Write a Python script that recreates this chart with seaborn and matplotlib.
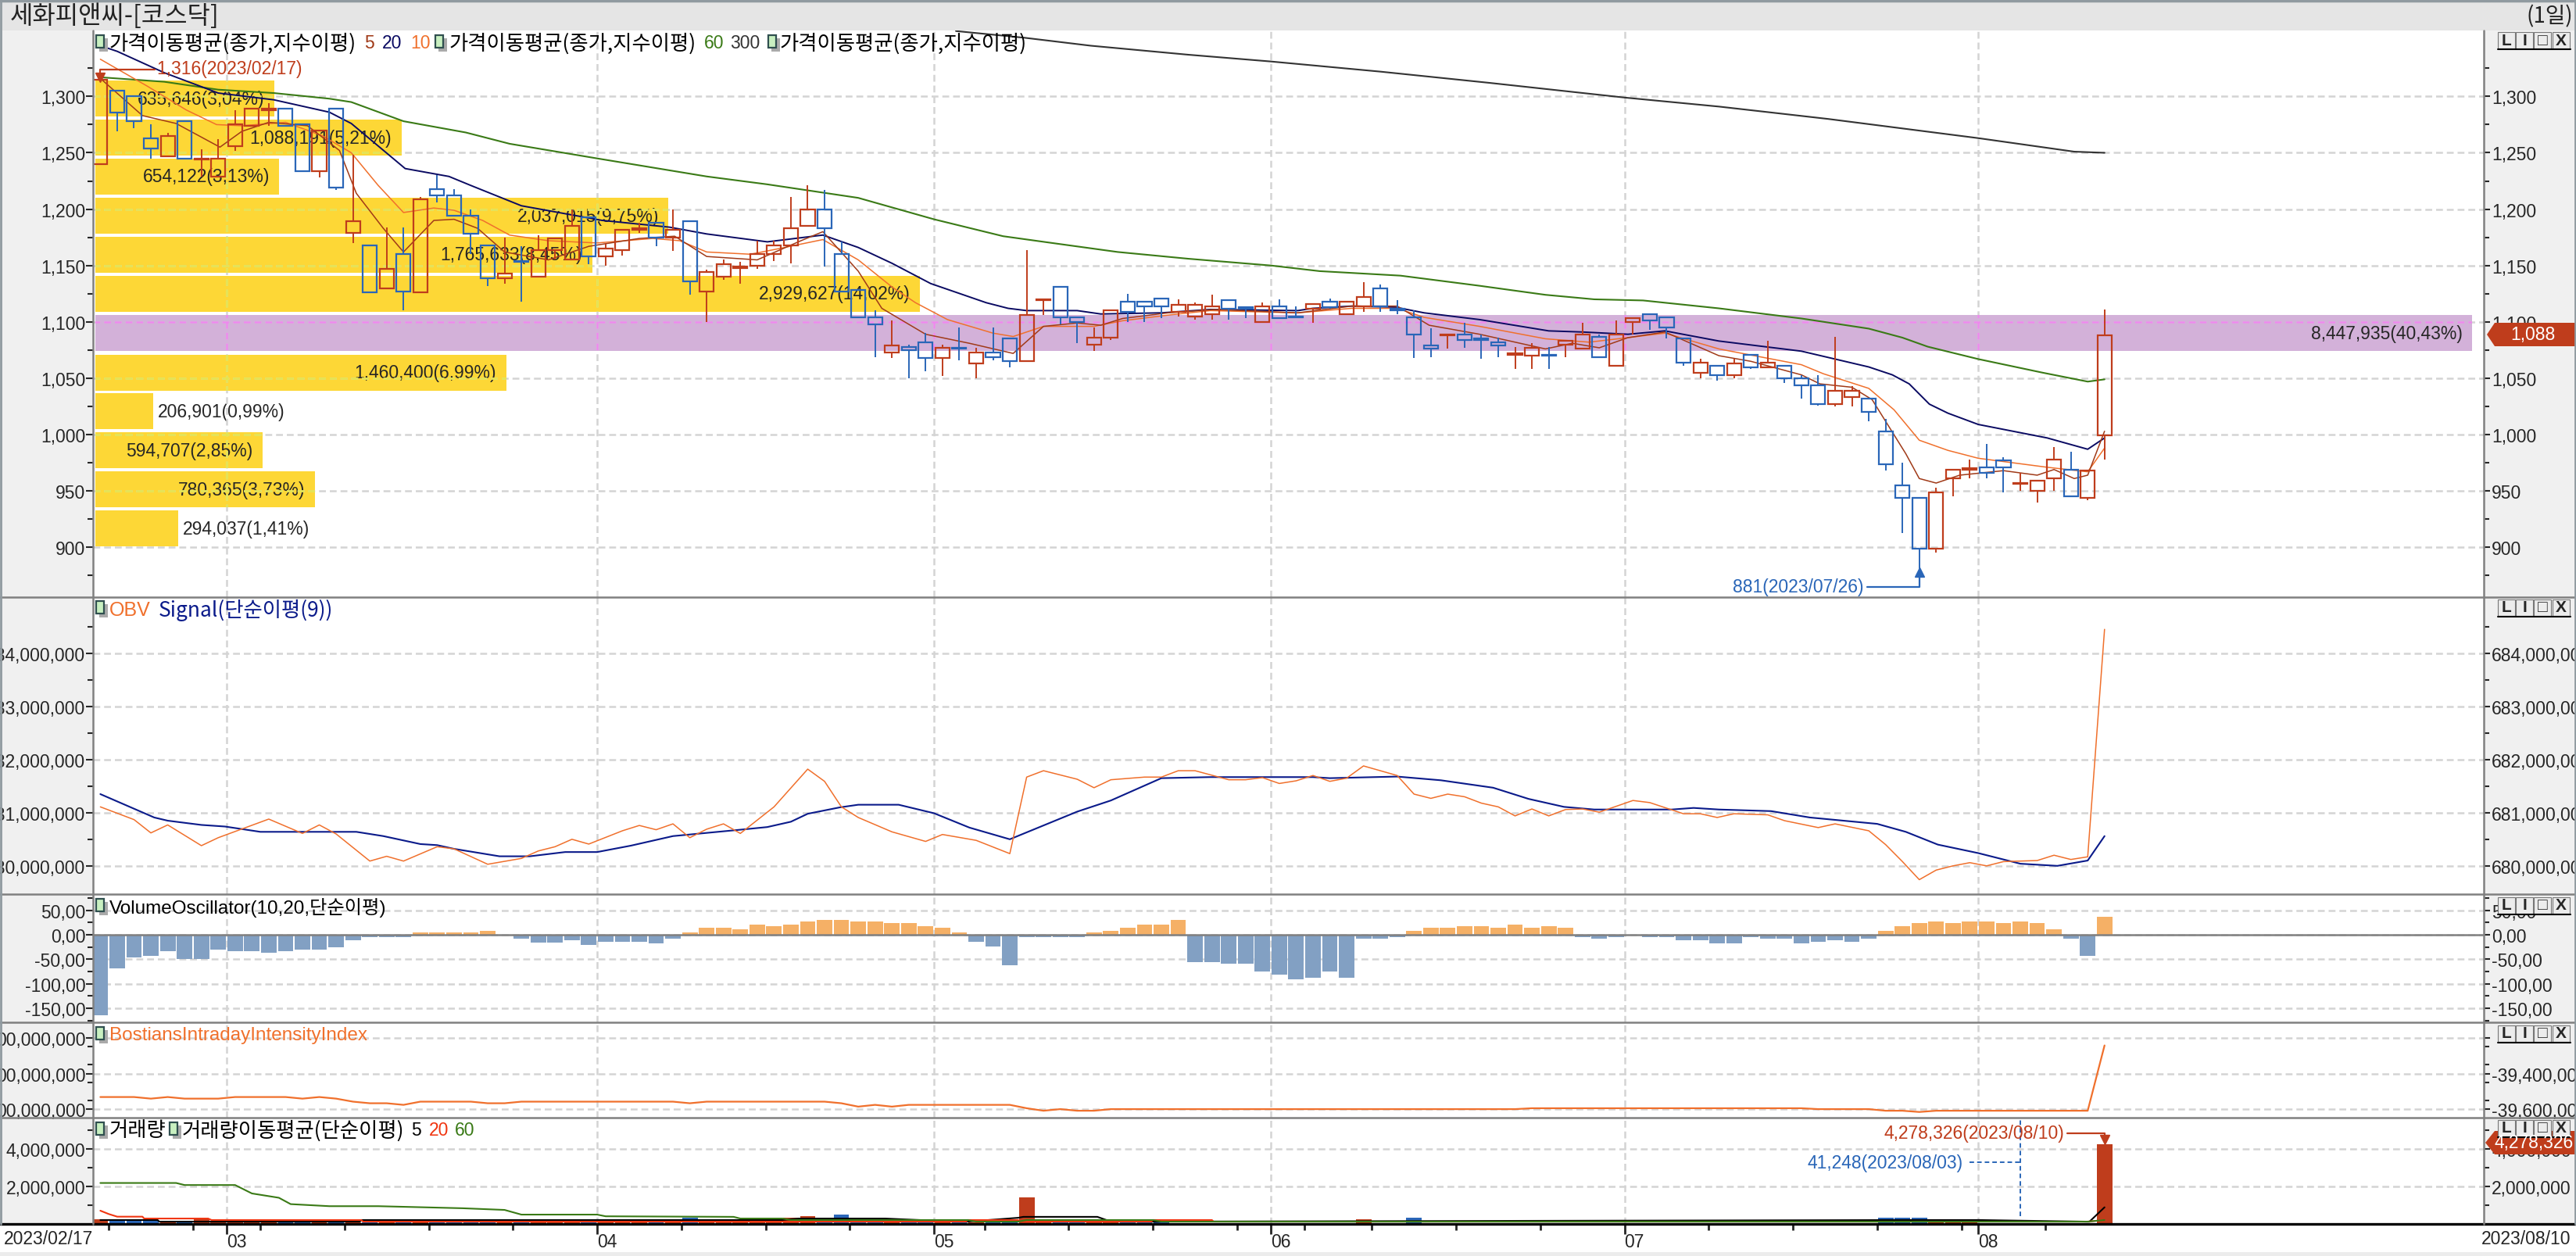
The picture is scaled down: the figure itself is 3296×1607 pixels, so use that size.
import matplotlib
matplotlib.use('Agg')
import matplotlib.pyplot as plt
from matplotlib.patches import Rectangle, Polygon
import numpy as np
import seaborn as sns

sns.set_style("white")
plt.rcParams['font.family'] = ['Liberation Sans', 'Noto Sans CJK KR', 'DejaVu Sans']
plt.rcParams['font.size'] = 16.5
CJK = ['Noto Sans CJK KR', 'DejaVu Sans']

# ---- candles, one per trading day 2023/02/17 .. 2023/08/10
opens = [1240,1305,1300,1263,1247,1278,1244,1229,1256,1274,1288,1289,1275,1234,1289,1179,1168,1130,1160,1126,
         1218,1212,1194,1168,1139,1154,1140,1164,1155,1193,1158,1164,1182,1188,1175,1189,1127,1140,1148,1150,
         1160,1168,1185,1200,1160,1128,1104,1073,1078,1082,1068,1077,1063,1073,1085,1065,1119,1131,1104,1080,
         1086,1118,1118,1121,1109,1105,1107,1119,1113,1100,1114,1105,1112,1118,1107,1114,1130,1112,1104,1079,
         1088,1089,1085,1082,1071,1070,1071,1080,1076,1087,1061,1100,1107,1104,1085,1055,1061,1053,1071,1060,
         1061,1050,1044,1027,1033,1032,1003,955,944,899,961,969,971,977,956,950,961,969,944,999]
highs = [1316,1305,1300,1275,1268,1278,1253,1262,1288,1289,1294,1289,1275,1270,1289,1248,1168,1184,1184,1211,
         1230,1218,1200,1168,1175,1167,1177,1174,1200,1193,1169,1182,1188,1188,1200,1189,1146,1155,1153,1172,
         1172,1211,1221,1217,1171,1128,1110,1101,1080,1090,1080,1095,1077,1095,1085,1164,1120,1131,1104,1095,
         1110,1125,1118,1121,1120,1117,1124,1119,1114,1117,1120,1114,1116,1121,1118,1135,1133,1119,1110,1094,
         1089,1099,1089,1086,1078,1081,1078,1083,1099,1089,1101,1103,1107,1104,1085,1067,1061,1067,1071,1083,
         1061,1053,1053,1087,1043,1032,1014,975,944,953,969,978,992,980,966,959,989,985,968,1111]
lows = [1240,1269,1272,1245,1247,1244,1229,1229,1252,1274,1274,1274,1234,1228,1217,1170,1126,1130,1110,1126,
        1206,1194,1160,1132,1134,1118,1140,1155,1155,1151,1150,1159,1179,1167,1163,1124,1100,1137,1134,1147,
        1154,1152,1185,1149,1127,1104,1069,1068,1050,1056,1052,1066,1050,1066,1060,1065,1106,1098,1081,1074,
        1084,1100,1100,1103,1105,1102,1102,1102,1103,1100,1103,1103,1099,1112,1107,1109,1109,1107,1068,1069,
        1076,1077,1067,1069,1058,1058,1058,1069,1076,1069,1061,1089,1093,1085,1061,1050,1048,1050,1058,1059,
        1046,1032,1026,1025,1025,1012,968,913,881,895,945,961,961,949,950,940,950,945,942,978]
closes = [1315,1286,1278,1254,1265,1245,1245,1245,1275,1289,1289,1274,1234,1270,1219,1189,1126,1147,1127,1209,
          1212,1194,1178,1139,1143,1153,1164,1174,1185,1158,1165,1182,1183,1175,1182,1136,1144,1151,1149,1160,
          1168,1183,1200,1183,1127,1104,1098,1079,1075,1068,1077,1076,1073,1069,1065,1106,1120,1104,1100,1086,
          1110,1109,1114,1114,1115,1115,1114,1112,1112,1114,1103,1104,1116,1113,1118,1122,1114,1110,1089,1076,
          1089,1084,1084,1079,1072,1077,1070,1083,1089,1069,1089,1103,1101,1095,1064,1064,1053,1063,1060,1064,
          1050,1044,1027,1039,1039,1020,974,944,899,949,969,970,966,971,957,959,978,945,968,1088]

# ---- price moving averages, read as knots (bar index, value)
ma5_x = [0,2.5,4.5,7.1,8.4,10,12.3,14.2,15.2,16.8,18,19.8,21,22.4,24,26.6,29,32,34.1,36,39,41.6,42.9,45,46.4,49,51.6,
         54.2,56,58,59.4,60.7,63.4,66.2,71.1,74.3,77,78.9,81.9,85.8,87.4,89,90.7,92.9,96.1,98,101,102.1,104,105.2,
         106.2,107.2,108,109,110.4,113,115,116,117.2,118,119]
ma5_y = [1316,1283,1276,1255,1269,1277,1274,1252,1214,1183,1162,1190,1191,1183,1162,1155,1167,1174,1176,1158,1155,1172,
         1180,1145,1112,1089,1081,1072,1096,1099,1097,1103,1108,1111,1108,1114,1114,1097,1089,1076,1081,1077,1086,1091,
         1070,1065,1053,1045,1042,1031,1007,983,961,957,964,968,964,969,961,964,1003]
ma10_x = [0,2.8,5.1,6.9,8.4,11,13.2,14.9,16.5,18,19.8,21,22.7,24.3,26.6,29.5,32.8,34.4,36,38.6,40.3,42.9,45,47,48.4,
          50.3,53,54.2,56,59,60.7,63.4,65.9,71.1,74.3,77,78.6,81.9,85.8,88.4,90.7,92.9,96.1,101,102.3,105,106.5,108,
          109.7,111.5,115.6,118,119]
ma10_y = [1333,1309,1288,1275,1274,1277,1265,1250,1221,1197,1201,1199,1190,1177,1172,1170,1174,1172,1162,1160,1165,1173,
          1155,1131,1117,1102,1090,1087,1096,1096,1101,1106,1110,1108,1112,1112,1104,1096,1085,1082,1086,1090,1076,1062,
          1054,1041,1022,995,986,979,971,967,988]
ma20_x = [0,1,3.8,7,10.3,13.6,14.9,18.1,20.7,22,25,29.8,33.8,36,39.6,42.9,45,47,49.3,52.6,53.9,55,58,59.4,63,65.9,71.1,
          72,74.3,76.9,78.6,81.9,86,88,90.7,92.9,96.1,101,105,106.4,107.4,108.6,109.7,111.5,115.6,118,119]
ma20_y = [1345,1340,1321,1303,1297,1286,1276,1236,1229,1221,1203,1190,1184,1178,1171,1177,1166,1152,1134,1117,1112,1110,
          1110,1107,1108,1111,1110,1112,1114,1113,1108,1102,1092,1091,1089,1092,1083,1074,1060,1053,1045,1027,1019,1009,
          997,987,997]
ma60_x = [0,3.8,7,10.3,13.6,14.9,18,21.7,24.3,29.5,36,39.6,45,49.5,53.6,56.5,60.4,64.6,69.5,72.4,77.2,81.9,85.8,88.7,
          91.6,96.1,101,105,107,108.5,111.5,115.3,118,119]
ma60_y = [1317,1313,1306,1303,1298,1295,1278,1268,1258,1245,1229,1222,1210,1191,1176,1170,1162,1156,1150,1145,1141,1132,
          1124,1120,1119,1112,1103,1094,1086,1078,1067,1055,1047,1049]
ma300_x = [50.8,54.9,58.8,64.6,69.5,76,82.5,90.5,96.1,102.6,111.5,117.2,119]
ma300_y = [1358,1352,1345,1337,1331,1322,1312,1299,1291,1280,1263,1251,1250]

price_major = [1300,1250,1200,1150,1100,1050,1000,950,900]
price_labels = ['1,300','1,250','1,200','1,150','1,100','1,050','1,000','950','900']
price_minor = [1325,1275,1225,1175,1125,1075,1025,975,925,875]

# ---- volume by price
profile_price = [1298,1263.4,1229,1194,1159.6,1125,1090,1055,1020.6,986,951.3,916.7]
profile_vol = [635646,1088191,654122,2037015,1765633,2929627,8447935,1460400,206901,594707,780365,294037]
profile_text = ['635,646(3,04%)','1,088,191(5,21%)','654,122(3,13%)','2,037,015(9,75%)','1,765,633(8,45%)',
                '2,929,627(14,02%)','8,447,935(40,43%)','1,460,400(6,99%)','206,901(0,99%)','594,707(2,85%)',
                '780,365(3,73%)','294,037(1,41%)']

# ---- OBV and its signal
obv_x = [0,2,3,4,6,7,10,12,13,14,16,17,18,20,21,23,25,26,27,28,29,31,32,33,34,35,36,37,38,40,42,43,44,45,47,49,50,52,54,
         55,56,58,59,60,62,63,64,65,67,68,69,70,71,72,73,74,75,77,78,79,80,81,82,83,84,85,86,87,88,89,91,92,94,95,96,
         97,99,100,102,103,105,106,107,108,109,110,111,112,113,115,116,117,118,119]
obv_y = [681.11,680.87,680.62,680.77,680.38,680.53,680.88,680.61,680.77,680.60,680.09,680.18,680.09,680.36,680.32,680.03,
         680.14,680.28,680.36,680.50,680.41,680.66,680.76,680.68,680.79,680.53,680.69,680.79,680.61,681.11,681.82,681.59,
         681.11,680.91,680.64,680.46,680.59,680.48,680.23,681.67,681.79,681.63,681.47,681.62,681.67,681.67,681.79,681.79,
         681.62,681.62,681.66,681.55,681.60,681.70,681.59,681.65,681.88,681.70,681.35,681.27,681.35,681.30,681.18,681.11,
         680.94,681.07,680.94,681.06,681.07,681.01,681.23,681.19,680.98,680.98,680.91,680.98,680.96,680.85,680.72,680.79,
         680.66,680.40,680.08,679.74,679.92,680.00,680.06,680.00,680.08,680.10,680.20,680.12,680.17,684.45]
signal_x = [0,3.2,4,6,7.4,9.5,15.2,16.8,19,20,21,23.7,25.5,27.6,29.5,31.5,34,36,38,39.6,41,42,43.9,45,47.4,49.5,51.6,54,
            58,60,63,65.9,72,73,77,79.6,82.7,84.8,86.9,88.7,93.3,94.6,96.1,99.2,101.5,105.5,107.2,109.1,111.5,114,116.2,118,119]
signal_y = [681.35,680.91,680.85,680.77,680.74,680.64,680.64,680.56,680.41,680.39,680.32,680.18,680.18,680.26,680.26,680.38,
            680.56,680.62,680.68,680.73,680.83,680.98,681.10,681.15,681.15,680.99,680.72,680.50,681.02,681.23,681.65,681.67,
            681.67,681.65,681.68,681.61,681.47,681.26,681.11,681.06,681.06,681.09,681.06,681.03,680.91,680.79,680.64,680.40,
            680.24,680.04,680.00,680.10,680.56]
obv_major = [684,683,682,681,680]
obv_labels = ['684,000,000','683,000,000','682,000,000','681,000,000','680,000,000']
obv_minor = [684.5,683.5,682.5,681.5,680.5]

# ---- volume oscillator
vo_values = [-164,-69,-47,-43,-34,-49,-49,-30,-34,-34,-37,-34,-30,-30,-26,-11,-5,-5,-5,5,5,5,5,8,0,-8,-16,-16,-11,-21,
             -15,-15,-15,-17,-8,5,15,15,11,21,17,21,27,30,30,27,27,24,24,17,15,5,-15,-24,-62,-5,-5,-5,-5,5,
             8,15,21,21,30,-56,-56,-59,-59,-75,-81,-91,-88,-75,-88,-8,-8,-5,8,15,15,17,17,15,21,15,17,15,-5,-8,
             -5,0,-5,-5,-11,-11,-17,-17,-5,-8,-8,-17,-15,-11,-15,-8,8,17,24,27,24,27,27,24,27,24,11,-8,-43,36]
vo_major = [50,0,-50,-100,-150]
vo_labels = ['50,00','0,00','-50,00','-100,00','-150,00']
vo_minor = [75,25,-25,-75,-125,-175]

# ---- Bostian intraday intensity
bii_x = [0,2,3,4,5,7,8,11,12,13,14,15,16,17,18,19,22,23,24,25,34,35,36,43,44,45,46,47,48,54,55,56,57,58,59,60,84,85,
         101,102,105,106,107,108,109,118,119]
bii_y = [-39532000,-39532000,-39541000,-39532000,-39541000,-39541000,-39532000,-39532000,-39541000,-39532000,-39541000,
         -39558000,-39567000,-39567000,-39576000,-39558000,-39558000,-39567000,-39567000,-39558000,-39558000,-39567000,
         -39558000,-39558000,-39567000,-39586000,-39576000,-39586000,-39576000,-39576000,-39595000,-39609000,-39600000,
         -39609000,-39609000,-39600000,-39600000,-39595000,-39595000,-39600000,-39600000,-39609000,-39609000,-39616000,
         -39609000,-39609000,-39242000]
bii_major = [-39200000,-39400000,-39600000]
bii_left_labels = ['00,000,000','00,000,000','00,000,000']
bii_right_labels = ['','-39,400,000','-39,600,000']
bii_minor = [-39250000,-39350000,-39450000,-39550000]

# ---- volume and its averages
volume = [250000,170000,170000,170000,100000,80000,250000,100000,90000,90000,
          90000,80000,80000,90000,90000,80000,90000,80000,90000,80000,
          80000,80000,70000,80000,80000,80000,90000,80000,80000,80000,
          80000,80000,80000,80000,90000,335000,170000,120000,100000,80000,
          90000,335000,420000,80000,500000,170000,170000,170000,170000,80000,
          80000,80000,80000,80000,80000,1420000,170000,170000,80000,170000,
          80000,80000,80000,80000,60000,60000,60000,60000,60000,60000,
          50000,50000,50000,50000,50000,250000,60000,60000,335000,60000,
          60000,60000,60000,60000,60000,60000,60000,60000,60000,60000,
          60000,60000,60000,60000,60000,60000,50000,50000,50000,50000,
          50000,50000,50000,60000,60000,50000,335000,335000,335000,70000,
          70000,70000,60000,60000,41248,40000,40000,40000,40000,4278326]
vol5_x = [0,3.4,3.5,15.4,15.5,17.7,18.8,20,37.5,40.5,41.5,46.6,48.6,51.5,54.5,54.8,59.2,60,62.5,107.5,111.5,118.1,119]
vol5_y = [210000,210000,125000,125000,210000,210000,210000,210000,210000,210000,290000,290000,210000,125000,330000,380000,
          380000,125000,125000,210000,210000,120000,890000]
vol20_x = [0,0.5,1,2.5,2.6,6.4,6.6,15.5,15.6,51.4,51.5,54.5,54.6,62.4,62.5,66,66.1,118,119]
vol20_y = [710000,530000,390000,390000,290000,290000,210000,210000,125000,125000,210000,210000,125000,125000,210000,210000,
           125000,125000,210000]
vol60_x = [0,4.5,5,8,9,10.6,11.3,13.6,16.5,21.5,24,25,29.5,30,37.6,38,40.5,41,51.5,52,54.5,55,62.5,63,118,119]
vol60_y = [2190000,2190000,2080000,2080000,1630000,1400000,1060000,950000,950000,840000,750000,500000,500000,410000,
           380000,290000,290000,210000,210000,125000,125000,210000,210000,125000,125000,210000]
vol_major = [4000000,2000000]
vol_labels = ['4,000,000','2,000,000']
vol_minor = [5000000,3000000,1000000]

# ---- time axis
month_edges = [7.5,29.5,49.5,69.5,90.5,111.5]
month_labels = ['03','04','05','06','07','08']
week_edges = [0.5,5.5,9.5,14.5,19.5,24.5,34.5,39.5,44.5,52.5,57.5,62.5,67.5,71.5,75.5,80.5,85.5,95.5,100.5,105.5,110.5,115.5]

# ---- colours
UP = '#bf3d1c'
DOWN = '#2a66b8'
GRID = '#d4d4d4'
ORANGE = '#f0702c'
NAVY = '#0a0a62'
GREEN = '#3a7a16'
GREY = '#808080'
DASH = (0, (3.5, 2))

W, H = 3296, 1608
PLOT_L, PLOT_R = 119, 3178.5
XLIM = (-0.436, 141.54)
days = np.arange(len(closes))

fig = plt.figure(figsize=(W / 100, H / 100), dpi=100, facecolor='white')


def pixel_axes(zorder):
    a = fig.add_axes([0, 0, 1, 1], zorder=zorder)
    a.set_xlim(0, W)
    a.set_ylim(H, 0)
    a.axis('off')
    return a


def panel_rect(top, bottom):
    return [PLOT_L / W, 1 - bottom / H, (PLOT_R - PLOT_L) / W, (bottom - top) / H]


def make_panel(top, bottom, ylim, major, left_labels, minor, right_labels=None):
    ax = fig.add_axes(panel_rect(top, bottom), zorder=2)
    ax.patch.set_visible(False)
    ax.set_xlim(*XLIM)
    ax.set_ylim(*ylim)
    ax.set_xticks(month_edges)
    ax.tick_params(axis='x', which='both', length=0, labelbottom=False)
    ax.grid(True, axis='both', which='major', color=GRID, lw=1.8, ls=DASH)
    ax.set_axisbelow(True)
    ax.set_yticks(major, left_labels)
    ax.set_yticks(minor, minor=True)
    ax.tick_params(axis='y', which='major', left=True, length=6.5, width=1.5, pad=0.5, labelsize=16.5)
    ax.tick_params(axis='y', which='minor', left=True, length=5, width=1.5)
    for s in ax.spines.values():
        s.set_visible(False)
    # right hand scale
    rx = ax.twinx()
    rx.patch.set_visible(False)
    rx.set_ylim(*ylim)
    rx.set_yticks(major, right_labels if right_labels else left_labels)
    rx.set_yticks(minor, minor=True)
    rx.tick_params(axis='y', which='major', right=True, length=6, width=1.5, pad=1, labelsize=16.5)
    rx.tick_params(axis='y', which='minor', right=True, length=5, width=1.5)
    for s in rx.spines.values():
        s.set_visible(False)
    return ax


def draw_line(ax, x, y, color, lw):
    sns.lineplot(x=x, y=y, color=color, lw=lw, ax=ax, legend=False, errorbar=None, estimator=None, sort=False)
    ax.set_xlabel('')
    ax.set_ylabel('')


back = pixel_axes(0)
back.add_patch(Rectangle((0, 40), PLOT_L, 1527, fc='#f0f0f0', ec='none'))
back.add_patch(Rectangle((PLOT_R, 40), W - PLOT_R, 1527, fc='#f0f0f0', ec='none'))

# =============================================================================
# price panel
# =============================================================================
PRICE_LIM = (855.8, 1358.5)
vp = fig.add_axes(panel_rect(40, 765), zorder=1)
vp.patch.set_visible(False)
vp.set_xlim(-8333, 8490277)
vp.set_ylim(*PRICE_LIM)
vp.set_xticks([])
vp.set_yticks([])
for s in vp.spines.values():
    s.set_visible(False)
profile_colors = ['#d3b1d9' if v == max(profile_vol) else '#fdd736' for v in profile_vol]
profile_bars = vp.barh(profile_price, profile_vol, height=32, color=profile_colors, lw=0)
for p, v, t in zip(profile_price, profile_vol, profile_text):
    if v in (206901, 294037):
        vp.annotate(t, (v, p), xytext=(4, 0), textcoords='offset points', ha='left', va='center')
    else:
        vp.annotate(t, (v, p), xytext=(-9, 0), textcoords='offset points', ha='right', va='center')

ax1 = make_panel(40, 765, PRICE_LIM, price_major, price_labels, price_minor)

# grid shows tinted where it crosses the profile bars
for bar, v in zip(profile_bars, profile_vol):
    tint = '#ee88ee' if v == max(profile_vol) else '#e6e64a'
    for yv in price_major:
        ln = ax1.axhline(yv, color=tint, lw=1.8, ls=DASH, zorder=1)
        ln.set_clip_path(bar)
    for xv in month_edges:
        ln = ax1.axvline(xv, color=tint, lw=1.8, ls=DASH, zorder=1)
        ln.set_clip_path(bar)

candle_colors = [UP if c >= o else DOWN for o, c in zip(opens, closes)]
for i, col in zip(days, candle_colors):
    top_b = max(opens[i], closes[i])
    bot_b = min(opens[i], closes[i])
    if highs[i] > top_b:
        ax1.vlines(i, top_b, highs[i], color=col, lw=1.4, zorder=3)
    if lows[i] < bot_b:
        ax1.vlines(i, lows[i], bot_b, color=col, lw=1.4, zorder=3)
ax1.bar(days, np.abs(np.array(closes) - np.array(opens)), bottom=np.minimum(opens, closes), width=0.84,
        facecolor='none', edgecolor=candle_colors, lw=1.6, zorder=3)

draw_line(ax1, ma300_x, ma300_y, '#333333', 1.5)
draw_line(ax1, ma60_x, ma60_y, GREEN, 1.5)
draw_line(ax1, ma20_x, ma20_y, NAVY, 1.4)
draw_line(ax1, ma10_x, ma10_y, ORANGE, 1.1)
draw_line(ax1, ma5_x, ma5_y, '#a03a18', 1.1)
ax1.set_ylim(*PRICE_LIM)
ax1.set_xlim(*XLIM)

# high / low marks
ax1.plot([3.25, 0, 0], [1324, 1324, 1318], color=UP, lw=1.6)
ax1.plot([0], [1317], marker='v', ms=9, color=UP)
ax1.text(3.35, 1325, '1,316(2023/02/17)', color=UP, ha='left', va='center')
ax1.plot([104.9, 108, 108], [864.5, 864.5, 877], color=DOWN, lw=1.6)
ax1.plot([108], [878], marker='^', ms=9, color=DOWN)
ax1.text(104.7, 865.5, '881(2023/07/26)', color=DOWN, ha='right', va='center')

# =============================================================================
# OBV panel
# =============================================================================
ax2 = make_panel(765, 1145, (679.468, 685.056), obv_major, obv_labels, obv_minor)
draw_line(ax2, signal_x, signal_y, '#0a1a8a', 1.5)
draw_line(ax2, obv_x, obv_y, ORANGE, 1.1)

# =============================================================================
# volume oscillator panel
# =============================================================================
ax3 = make_panel(1145, 1309, (-178.6, 83), vo_major, vo_labels, vo_minor)
vo_sign = ['up' if v >= 0 else 'down' for v in vo_values]
sns.barplot(x=days, y=vo_values, hue=vo_sign, palette={'up': '#f5b066', 'down': '#82a0c3'}, dodge=False,
            native_scale=True, width=0.92, saturation=1, linewidth=0, legend=False, ax=ax3, zorder=2)
ax3.axhline(0, color=GREY, lw=1.8, zorder=3)
ax3.set_xlim(*XLIM)
ax3.set_ylim(-178.6, 83)
ax3.set_xticks(month_edges)
ax3.tick_params(axis='x', which='both', length=0, labelbottom=False)
ax3.set_ylabel('')

# =============================================================================
# Bostian panel
# =============================================================================
ax4 = make_panel(1309, 1431, (-39648000, -39112000), bii_major, bii_left_labels, bii_minor, bii_right_labels)
draw_line(ax4, bii_x, bii_y, ORANGE, 1.6)
ax4.set_ylim(-39648000, -39112000)

# =============================================================================
# volume panel
# =============================================================================
ax5 = make_panel(1431, 1567, (0, 5680000), vol_major, vol_labels, vol_minor)
vol_sign = ['up' if c == UP else 'down' for c in candle_colors]
sns.barplot(x=days, y=volume, hue=vol_sign, palette={'up': UP, 'down': DOWN}, dodge=False, native_scale=True,
            width=0.92, saturation=1, linewidth=0, legend=False, ax=ax5, zorder=2)
draw_line(ax5, vol5_x, vol5_y, 'black', 1.5)
draw_line(ax5, vol20_x, vol20_y, '#f03510', 1.5)
draw_line(ax5, vol60_x, vol60_y, GREEN, 1.5)
ax5.set_ylim(0, 5680000)
ax5.set_xlim(*XLIM)
ax5.set_xticks(month_edges, month_labels, ha='left')
ax5.set_xticks(week_edges, minor=True)
ax5.tick_params(axis='x', which='major', bottom=True, length=9, width=2, pad=-1, labelbottom=True, labelsize=16.5)
ax5.tick_params(axis='x', which='minor', bottom=True, length=6, width=2)

ax5.plot([116.8, 119, 119], [4850000, 4850000, 4620000], color=UP, lw=1.6)
ax5.plot([119], [4520000], marker='v', ms=9, color=UP)
ax5.text(116.6, 4850000, '4,278,326(2023/08/10)', color=UP, ha='right', va='center')
ax5.plot([111, 114], [3280000, 3280000], color=DOWN, lw=1.4, ls=(0, (3, 2)))
ax5.plot([114, 114], [400000, 5680000], color=DOWN, lw=1.4, ls=(0, (3, 2)))
ax5.text(110.6, 3280000, '41,248(2023/08/03)', color=DOWN, ha='right', va='center')

# =============================================================================
# window furniture
# =============================================================================
top = pixel_axes(5)
top.add_patch(Rectangle((0, 0), W, 40, fc='#e5e5e5', ec='none'))
top.plot([0, W], [2, 2], color='#909aa0', lw=2.5)
top.text(13, 21, '세화피앤씨-[코스닥]', ha='left', va='center', color='#222222', family=CJK, fontsize=23)
top.text(3292, 21, '(1일)', ha='right', va='center', color='#222222', family=CJK, fontsize=20)

for y in [765, 1145, 1309, 1431]:
    top.plot([0, W], [y, y], color=GREY, lw=1.8)
top.plot([0, W], [1567, 1567], color='black', lw=2.4)
top.plot([PLOT_L, PLOT_L], [40, 1567], color=GREY, lw=1.8)
top.plot([PLOT_R, PLOT_R], [40, 1567], color=GREY, lw=1.8)
top.plot([1, 1], [0, 1567], color='#909aa0', lw=2)
top.plot([W - 1, W - 1], [0, 1567], color='#909aa0', lw=2)
top.add_patch(Rectangle((0, 1603), W, 5, fc='#ececec', ec='none'))


def icon(x, y):
    top.add_patch(Rectangle((x + 4, y + 4), 11, 17, fc='#aaaaaa', ec='none'))
    top.add_patch(Rectangle((x, y), 10, 16, fc='#c8f0c0', ec='#2f4f4f', lw=1.6))


def label(x, y, text, color='black', korean=False, size=16.5):
    if korean:
        top.text(x, y, text, color=color, ha='left', va='center', family=CJK, fontsize=19)
    else:
        top.text(x, y, text, color=color, ha='left', va='center', fontsize=size)


icon(123, 46)
label(140, 56, '가격이동평균(종가,지수이평)', korean=True)
label(466, 56, '5', '#a03a18')
label(489, 56, '20', NAVY)
label(525, 56, '10', ORANGE)
icon(557, 46)
label(575, 56, '가격이동평균(종가,지수이평)', korean=True)
label(901, 56, '60', GREEN)
label(934, 56, '300', '#333333')
icon(983, 46)
label(998, 56, '가격이동평균(종가,지수이평)', korean=True)

icon(123, 770)
label(140, 781, 'OBV', ORANGE, size=18)
label(203, 781, 'Signal(단순이평(9))', '#0a1a8a', korean=True)
icon(123, 1151)
label(140, 1161, 'VolumeOscillator(10,20,단순이평)', size=17.5)
icon(123, 1315)
label(140, 1325, 'BostiansIntradayIntensityIndex', ORANGE, size=17.5)
icon(123, 1437)
label(140, 1447, '거래량', korean=True)
icon(217, 1437)
label(233, 1447, '거래량이동평균(단순이평)', korean=True)
label(526, 1447, '5')
label(549, 1447, '20', '#f03510')
label(582, 1447, '60', GREEN)

# price tags
top.add_patch(Polygon([(3182, 429), (3192, 414), (W, 414), (W, 444), (3192, 444)], fc=UP, ec='none'))
top.text(3241, 429, '1,088', color='white', ha='center', va='center')
top.add_patch(Polygon([(3180, 1463), (3192, 1448), (W, 1448), (W, 1478), (3192, 1478)], fc=UP, ec='none'))
top.text(3242, 1463, '4,278,326', color='white', ha='center', va='center')

# panel buttons
for y in [42, 768, 1149, 1313, 1434]:
    for k, glyph in enumerate(['L', 'I', '□', 'X']):
        x = 3196 + 23.2 * k
        top.add_patch(Rectangle((x, y), 22, 21, fc='#ececec', ec='#777777', lw=0.8))
        top.text(x + 11, y + 10, glyph, ha='center', va='center', fontsize=15, fontweight='bold')
    top.plot([3196, 3289], [y + 22, y + 22], color='black', lw=1.5)

# edge date labels
top.text(5, 1586, '2023/02/17', ha='left', va='center')
top.text(3289, 1586, '2023/08/10', ha='right', va='center')

plt.savefig('out.png', dpi=100, facecolor=fig.get_facecolor())
